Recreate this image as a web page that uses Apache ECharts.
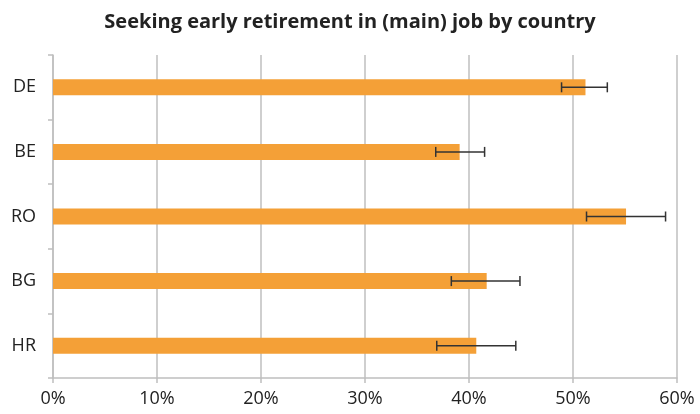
<!DOCTYPE html>
<html>
<head>
<meta charset="utf-8">
<script src="https://cdn.jsdelivr.net/npm/echarts@6/dist/echarts.min.js"></script>
<style>
  html, body { margin: 0; padding: 0; background: #fff; }
  #main { width: 700px; height: 414px; }
</style>
</head>
<body>
<div id="main"></div>
<script>
// 数据
var countries = ['DE', 'BE', 'RO', 'BG', 'HR'];
var shares = [51.2, 39.1, 55.1, 41.7, 40.7];
var errLow = [48.9, 36.8, 51.3, 38.3, 36.9];
var errHigh = [53.3, 41.5, 58.9, 44.9, 44.5];

var chart = echarts.init(document.getElementById('main'));

var errData = countries.map(function (c, i) {
  return [i, errLow[i], errHigh[i]];
});

var option = {
  animation: false,
  title: {
    text: 'Seeking early retirement in (main) job by country',
    left: 'center',
    top: 7,
    textStyle: {
      fontFamily: 'Open Sans',
      fontWeight: 'bold',
      fontSize: 20,
      color: '#222'
    }
  },
  grid: {
    left: 53,
    right: 23,
    top: 55,
    bottom: 36
  },
  xAxis: {
    type: 'value',
    min: 0,
    max: 60,
    interval: 10,
    axisLine: { show: true, lineStyle: { color: '#bfbfbf', width: 1.5 } },
    axisTick: { show: true, length: 5, lineStyle: { color: '#bfbfbf', width: 1.5 } },
    splitLine: { show: true, lineStyle: { color: '#bfbfbf', width: 1.5 } },
    axisLabel: {
      formatter: '{value}%',
      color: '#222',
      fontFamily: 'Open Sans',
      fontSize: 18,
      margin: 12
    }
  },
  yAxis: {
    type: 'category',
    data: countries,
    inverse: true,
    axisLine: { show: true, lineStyle: { color: '#bfbfbf', width: 1.5 } },
    axisTick: { show: true, length: 5, lineStyle: { color: '#bfbfbf', width: 1.5 } },
    axisLabel: {
      color: '#222',
      fontFamily: 'Open Sans',
      fontSize: 18,
      margin: 17
    }
  },
  series: [{
    type: 'bar',
    data: shares,
    barWidth: 16,
    itemStyle: { color: '#F4A037' }
  }, {
    type: 'custom',
    data: errData,
    z: 5,
    renderItem: function (params, api) {
      var idx = api.value(0);
      var lo = api.coord([api.value(1), idx]);
      var hi = api.coord([api.value(2), idx]);
      var h = 5;
      var style = { stroke: '#333', lineWidth: 1.5, fill: null };
      return {
        type: 'group',
        children: [
          { type: 'line', shape: { x1: lo[0], y1: lo[1], x2: hi[0], y2: hi[1] }, style: style },
          { type: 'line', shape: { x1: lo[0], y1: lo[1] - h, x2: lo[0], y2: lo[1] + h }, style: style },
          { type: 'line', shape: { x1: hi[0], y1: hi[1] - h, x2: hi[0], y2: hi[1] + h }, style: style }
        ]
      };
    }
  }]
};

chart.setOption(option);
</script>
</body>
</html>
